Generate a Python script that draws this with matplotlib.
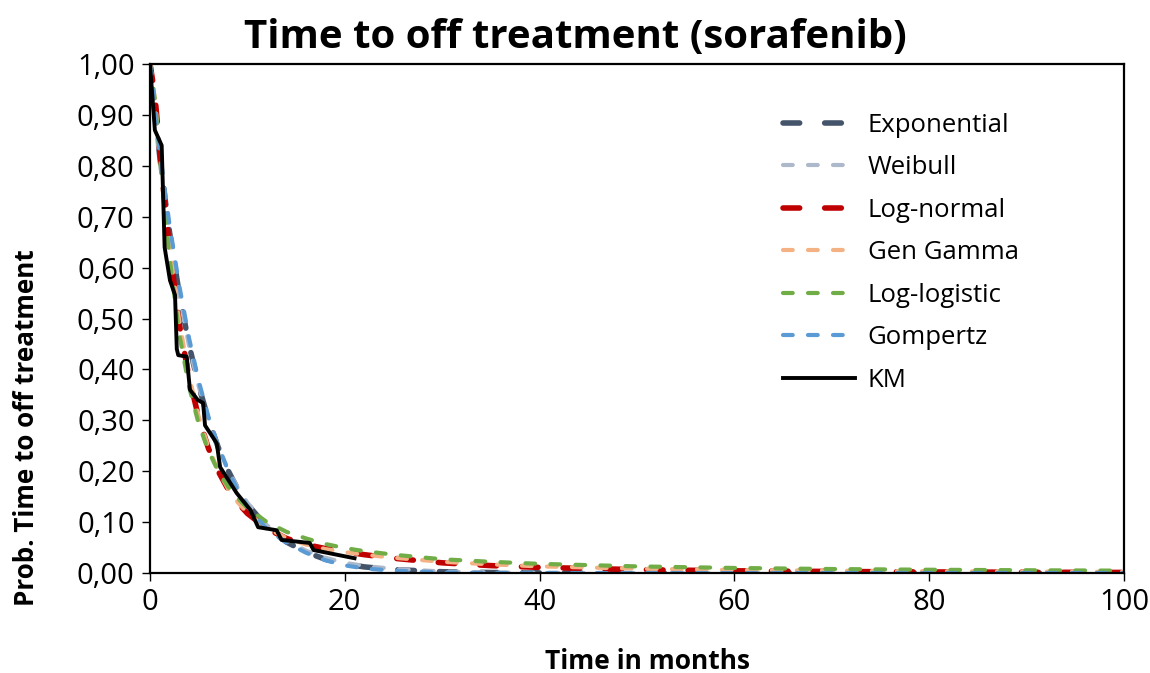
import matplotlib
matplotlib.use("Agg")
import matplotlib.pyplot as plt
from matplotlib.ticker import FuncFormatter

plt.rcParams['font.family'] = ['Open Sans', 'DejaVu Sans']
plt.rcParams['lines.scale_dashes'] = False

# Data
t_fit = [0, 0.5, 1, 1.5, 2, 3, 4, 5, 6, 7, 8, 9, 10, 12, 14, 16, 18, 20, 22, 25,
         30, 35, 40, 50, 60, 70, 80, 90, 100]

exponential = [1.0, 0.905, 0.819, 0.741, 0.670, 0.549, 0.449, 0.368, 0.301, 0.247,
               0.202, 0.165, 0.135, 0.091, 0.061, 0.041, 0.027, 0.018, 0.012, 0.0067,
               0.0025, 0.0009, 0.0003, 0.0, 0.0, 0.0, 0.0, 0.0, 0.0]
weibull = [1.0, 0.89, 0.81, 0.735, 0.665, 0.545, 0.447, 0.367, 0.302, 0.248,
           0.204, 0.168, 0.138, 0.094, 0.064, 0.044, 0.030, 0.020, 0.014, 0.008,
           0.003, 0.0012, 0.0005, 0.0001, 0.0, 0.0, 0.0, 0.0, 0.0]
lognormal = [1.0, 0.94, 0.83, 0.73, 0.64, 0.49, 0.385, 0.305, 0.245, 0.200,
             0.165, 0.138, 0.117, 0.087, 0.068, 0.056, 0.048, 0.042, 0.036, 0.029,
             0.020, 0.0145, 0.011, 0.0066, 0.0043, 0.0030, 0.0021, 0.0015, 0.0011]
gengamma = [1.0, 0.93, 0.83, 0.735, 0.645, 0.495, 0.388, 0.307, 0.247, 0.201,
            0.166, 0.139, 0.118, 0.088, 0.069, 0.056, 0.047, 0.041, 0.036, 0.030,
            0.022, 0.017, 0.013, 0.0085, 0.006, 0.0045, 0.0035, 0.0028, 0.0022]
loglogistic = [1.0, 0.93, 0.82, 0.716, 0.62, 0.47, 0.367, 0.293, 0.240, 0.200,
               0.170, 0.147, 0.128, 0.100, 0.081, 0.068, 0.057, 0.049, 0.043, 0.036,
               0.027, 0.022, 0.018, 0.013, 0.0099, 0.0078, 0.0064, 0.0054, 0.0046]
gompertz = [1.0, 0.91, 0.83, 0.755, 0.685, 0.565, 0.462, 0.377, 0.307, 0.250,
            0.202, 0.163, 0.131, 0.086, 0.060, 0.040, 0.025, 0.015, 0.009, 0.0045,
            0.0012, 0.0002, 0.0, 0.0, 0.0, 0.0, 0.0, 0.0, 0.0]

t_km = [0, 0.5, 1.2, 1.5, 2.05, 2.57, 2.75, 2.9, 3.77, 4.1, 4.9, 5.45, 5.65, 6.85,
        7.2, 8.9, 10.3, 11.1, 13.0, 13.5, 16.4, 16.8, 21.0]
km = [1.0, 0.87, 0.84, 0.64, 0.575, 0.546, 0.44, 0.428, 0.425, 0.36, 0.34, 0.334,
      0.29, 0.255, 0.208, 0.157, 0.124, 0.09, 0.084, 0.065, 0.059, 0.045, 0.029]

long_dash = (0, (12, 18))
short_dash = (0, (7, 11))

fig = plt.figure(figsize=(11.5, 6.73), dpi=100)
ax = fig.add_axes([150 / 1150, 1 - 573 / 673, 974 / 1150, 509 / 673])

ax.plot(t_fit, exponential, color='#44546A', lw=4, ls=long_dash,
        dash_capstyle='round', label='Exponential')
ax.plot(t_fit, weibull, color='#ADB9CA', lw=3, ls=short_dash,
        dash_capstyle='round', label='Weibull')
ax.plot(t_fit, lognormal, color='#C00000', lw=4, ls=long_dash,
        dash_capstyle='round', label='Log-normal')
ax.plot(t_fit, gengamma, color='#F4B183', lw=3, ls=short_dash,
        dash_capstyle='round', label='Gen Gamma')
ax.plot(t_fit, loglogistic, color='#70AD47', lw=3, ls=short_dash,
        dash_capstyle='round', label='Log-logistic')
ax.plot(t_fit, gompertz, color='#5B9BD5', lw=3, ls=short_dash,
        dash_capstyle='round', label='Gompertz')
ax.plot(t_km, km, color='black', lw=2.8, label='KM')

ax.set_xlim(0, 100)
ax.set_ylim(0, 1)
ax.set_xticks([0, 20, 40, 60, 80, 100])
ax.set_yticks([i / 10 for i in range(11)])
ax.yaxis.set_major_formatter(FuncFormatter(lambda v, p: f"{v:.2f}".replace('.', ',')))
ax.tick_params(labelsize=21, length=6, width=1, direction='out', pad=5)
for s in ax.spines.values():
    s.set_linewidth(1.6)

ax.set_xlabel('Time in months', fontsize=19, fontweight='bold')
ax.xaxis.set_label_coords(0.511, -0.147)
ax.set_ylabel('Prob. Time to off treatment', fontsize=18.7, fontweight='bold')
ax.yaxis.set_label_coords(-0.113, 0.285)

fig.text(0.5, 1 - 38 / 673, 'Time to off treatment (sorafenib)', fontsize=29,
         fontweight='bold', ha='center', va='center')

ax.legend(loc='upper left', bbox_to_anchor=(783 / 1150, 1 - 113 / 673),
          bbox_transform=fig.transFigure, frameon=False, fontsize=18.5,
          handlelength=2.8, handletextpad=0.5, labelspacing=0.68,
          borderpad=0, borderaxespad=0)

fig.savefig('out.png', dpi=100)
